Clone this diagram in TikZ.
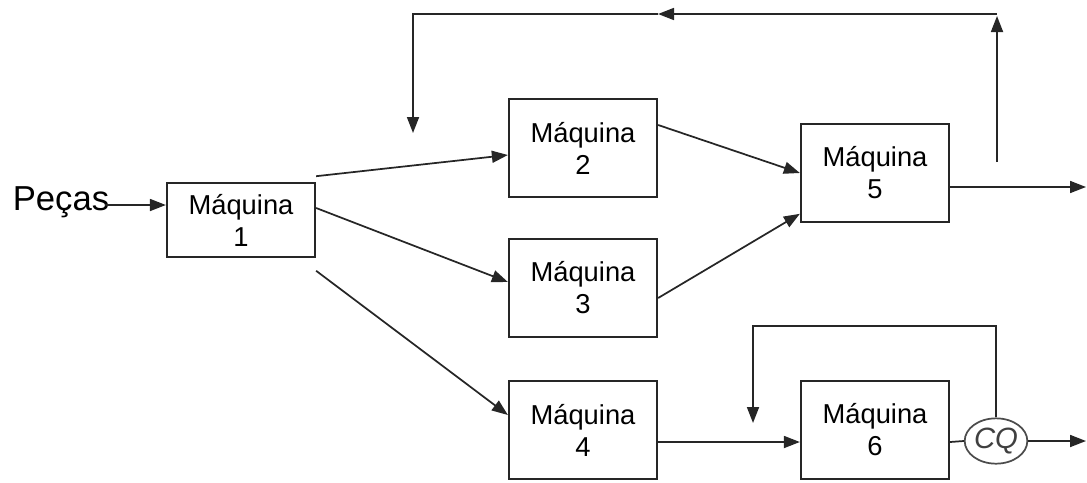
\documentclass[tikz,border=0pt]{standalone}
\usepackage{fontspec}
\setmainfont{Liberation Sans}
\usetikzlibrary{arrows.meta,calc,shapes.geometric}
\tikzset{
    maq/.style={draw=black!85, line width=1.7pt, minimum width=111pt, minimum height=73pt,
        align=center, inner sep=0pt, font=\fontsize{20.5}{24}\selectfont},
    seta/.style={draw=black!85, line width=1.3pt, -{Triangle[length=12pt,width=9pt]}},
    linha/.style={draw=black!85, line width=1.3pt}
}
\begin{document}
\begin{tikzpicture}[x=0.75pt,y=-0.75pt]
        \useasboundingbox (0,0) rectangle (1087,482);
        \node[inner sep=0pt, font=\fontsize{26}{30}\selectfont] (pecas) at (61,202) {Peças};
        \node[maq, minimum height=55pt] (m1) at (241,220) {Máquina\\1};
        \node[maq] (m2) at (583,148) {Máquina\\2};
        \node[maq] (m3) at (583,288) {Máquina\\3};
        \node[maq] (m4) at (583,430) {Máquina\\4};
        \node[maq] (m5) at (875,173) {Máquina\\5};
        \node[maq] (m6) at (875,430) {Máquina\\6};
        \node[draw=black!70, line width=1.3pt, ellipse, minimum width=47pt, minimum height=34pt,
            inner sep=0pt, font=\itshape\fontsize{22}{24}\selectfont, text=black!75] (cq) at (996,441) {CQ};
        \coordinate (saida5) at (1086,187);
        \coordinate (saida6) at (1086,441);
        \coordinate (fbA) at (997,162);
        \coordinate (fbB) at (997,16);
        \coordinate (fbM) at (658,14);
        \coordinate (fbC) at (413,14);
        \coordinate (fbD) at (413,133);
        \coordinate (fb6) at (753,326);
        \coordinate (fb6d) at (753,423);
        \draw[seta] ($(pecas.east)+(-4,3)$) -- ($(m1.west)+(0,-15)$);
        \draw[seta] ($(m1.north east)+(0,-6)$) -- ($(m2.west)+(0,7)$);
        \draw[seta] ($(m1.east)+(0,-12)$) -- ($(m3.west)+(0,-6)$);
        \draw[seta] ($(m1.south east)+(0,13)$) -- ($(m4.west)+(0,-15)$);
        \draw[seta] ($(m2.east)+(0,-23)$) -- (m5.west);
        \draw[seta] ($(m3.east)+(0,10)$) -- ($(m5.south west)+(0,-9)$);
        \draw[seta] ($(m5.east)+(0,14)$) -- (saida5);
        \draw[seta] (fbA) -- (fbB);
        \draw[seta] (fbB |- fbM) -- (fbM);
        \draw[seta] (fbM) -- (fbC) -- (fbD);
        \draw[seta] ($(m4.east)+(0,12)$) -- ($(m6.west)+(0,12)$);
        \draw[linha] ($(m6.east)+(0,12)$) -- (cq.west);
        \draw[seta] (cq.east) -- (saida6);
        \draw[seta] (cq.north) |- (fb6) -- (fb6d);
\end{tikzpicture}
\end{document}
